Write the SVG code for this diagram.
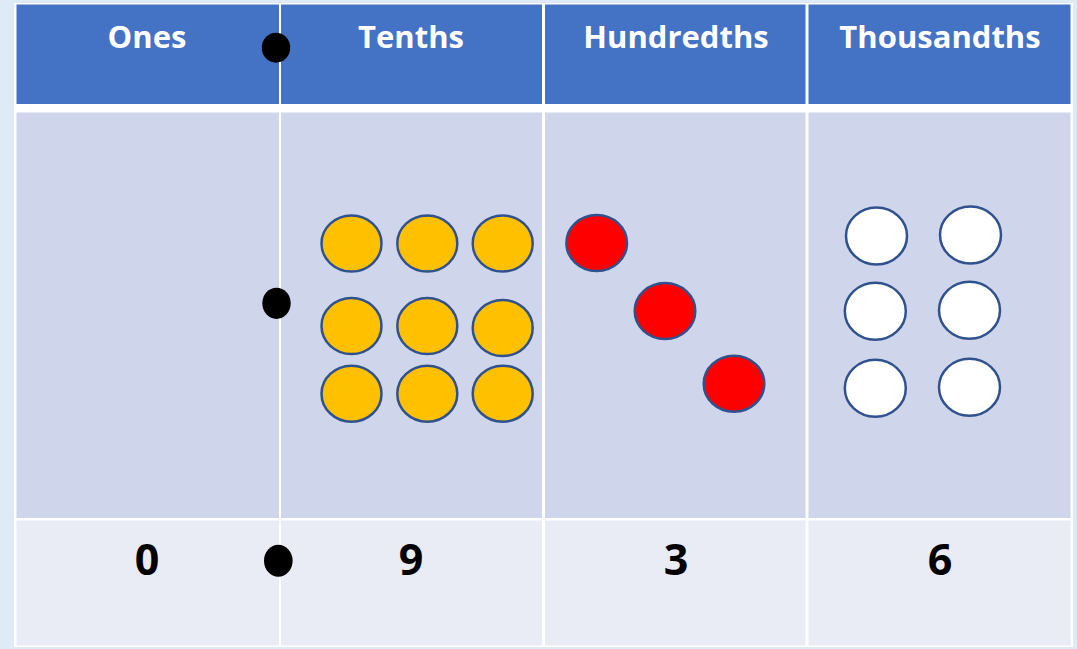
<svg xmlns="http://www.w3.org/2000/svg" width="1077" height="649" viewBox="0 0 1077 649">
  <style>
    .head { fill: #4472C4; }
    .body { fill: #CFD5EA; }
    .foot { fill: #E9EBF5; }
    .htxt { font-family: "Open Sans", "Liberation Sans", sans-serif; font-weight: 700; font-size: 31px; fill: #FFFFFF; text-anchor: middle; }
    .ntxt { font-family: "Open Sans", "Liberation Sans", sans-serif; font-weight: 700; font-size: 43px; fill: #000000; text-anchor: middle; }
    .gold { fill: #FFC000; stroke: #2F528F; stroke-width: 2.5; }
    .red { fill: #FF0000; stroke: #2F528F; stroke-width: 2.5; }
    .blank { fill: #FFFFFF; stroke: #2F528F; stroke-width: 2.5; }
    .point { fill: #000000; }
  </style>

  <!-- page and table backing -->
  <rect x="0" y="0" width="1077" height="649" fill="#DEEAF6"/>
  <rect x="14" y="3" width="1059" height="644" fill="#FFFFFF"/>

  <!-- header row -->
  <g id="header">
    <g id="col-ones-head">
      <rect class="head" x="16.5" y="4.5" width="262.5" height="99.5"/>
      <text class="htxt" x="147" y="48">Ones</text>
    </g>
    <g id="col-tenths-head">
      <rect class="head" x="281" y="4.5" width="261" height="99.5"/>
      <text class="htxt" x="411" y="48">Tenths</text>
    </g>
    <g id="col-hundredths-head">
      <rect class="head" x="545" y="4.5" width="260.5" height="99.5"/>
      <text class="htxt" x="676" y="48">Hundredths</text>
    </g>
    <g id="col-thousandths-head">
      <rect class="head" x="808.5" y="4.5" width="262" height="99.5"/>
      <text class="htxt" x="940" y="48">Thousandths</text>
    </g>
  </g>

  <!-- counters row -->
  <g id="counter-row">
    <rect class="body" x="16.5" y="112.5" width="262.5" height="405.5"/>
    <rect class="body" x="281" y="112.5" width="261" height="405.5"/>
    <rect class="body" x="545" y="112.5" width="260.5" height="405.5"/>
    <rect class="body" x="808.5" y="112.5" width="262" height="405.5"/>
  </g>

  <!-- digits row -->
  <g id="digit-row">
    <rect class="foot" x="16.5" y="520.5" width="262.5" height="125"/>
    <rect class="foot" x="281" y="520.5" width="261" height="125"/>
    <rect class="foot" x="545" y="520.5" width="260.5" height="125"/>
    <rect class="foot" x="808.5" y="520.5" width="262" height="125"/>
    <text class="ntxt" x="147" y="575">0</text>
    <text class="ntxt" x="411" y="575">9</text>
    <text class="ntxt" x="676" y="575">3</text>
    <text class="ntxt" x="940" y="575">6</text>
  </g>

  <!-- nine tenths counters -->
  <g id="tenths-counters">
    <ellipse class="gold" cx="351.5" cy="243.5" rx="30" ry="28"/>
    <ellipse class="gold" cx="427.3" cy="243.5" rx="30" ry="28"/>
    <ellipse class="gold" cx="502.7" cy="243.5" rx="30" ry="28"/>
    <ellipse class="gold" cx="351.5" cy="326" rx="30" ry="28"/>
    <ellipse class="gold" cx="427.3" cy="326" rx="30" ry="28"/>
    <ellipse class="gold" cx="502.7" cy="328" rx="30" ry="28"/>
    <ellipse class="gold" cx="351.5" cy="393.7" rx="30" ry="28"/>
    <ellipse class="gold" cx="427.3" cy="393.7" rx="30" ry="28"/>
    <ellipse class="gold" cx="502.7" cy="393.7" rx="30" ry="28"/>
  </g>

  <!-- three hundredths counters -->
  <g id="hundredths-counters">
    <ellipse class="red" cx="596.7" cy="243" rx="30.3" ry="28"/>
    <ellipse class="red" cx="665" cy="311" rx="30.3" ry="28"/>
    <ellipse class="red" cx="734" cy="383.7" rx="30.3" ry="28"/>
  </g>

  <!-- six thousandths counters -->
  <g id="thousandths-counters">
    <ellipse class="blank" cx="876.5" cy="236" rx="30.5" ry="28.5"/>
    <ellipse class="blank" cx="970.5" cy="235" rx="30.5" ry="28.5"/>
    <ellipse class="blank" cx="875.3" cy="311.3" rx="30.5" ry="28.5"/>
    <ellipse class="blank" cx="969.5" cy="310.3" rx="30.5" ry="28.5"/>
    <ellipse class="blank" cx="875.3" cy="388.3" rx="30.5" ry="28.5"/>
    <ellipse class="blank" cx="969.5" cy="387.3" rx="30.5" ry="28.5"/>
  </g>

  <!-- decimal points -->
  <g id="decimal-points">
    <ellipse class="point" cx="276" cy="47.7" rx="14.2" ry="15"/>
    <ellipse class="point" cx="276.5" cy="303.3" rx="14.2" ry="15.6"/>
    <ellipse class="point" cx="278.3" cy="560.8" rx="14.3" ry="16"/>
  </g>
</svg>
